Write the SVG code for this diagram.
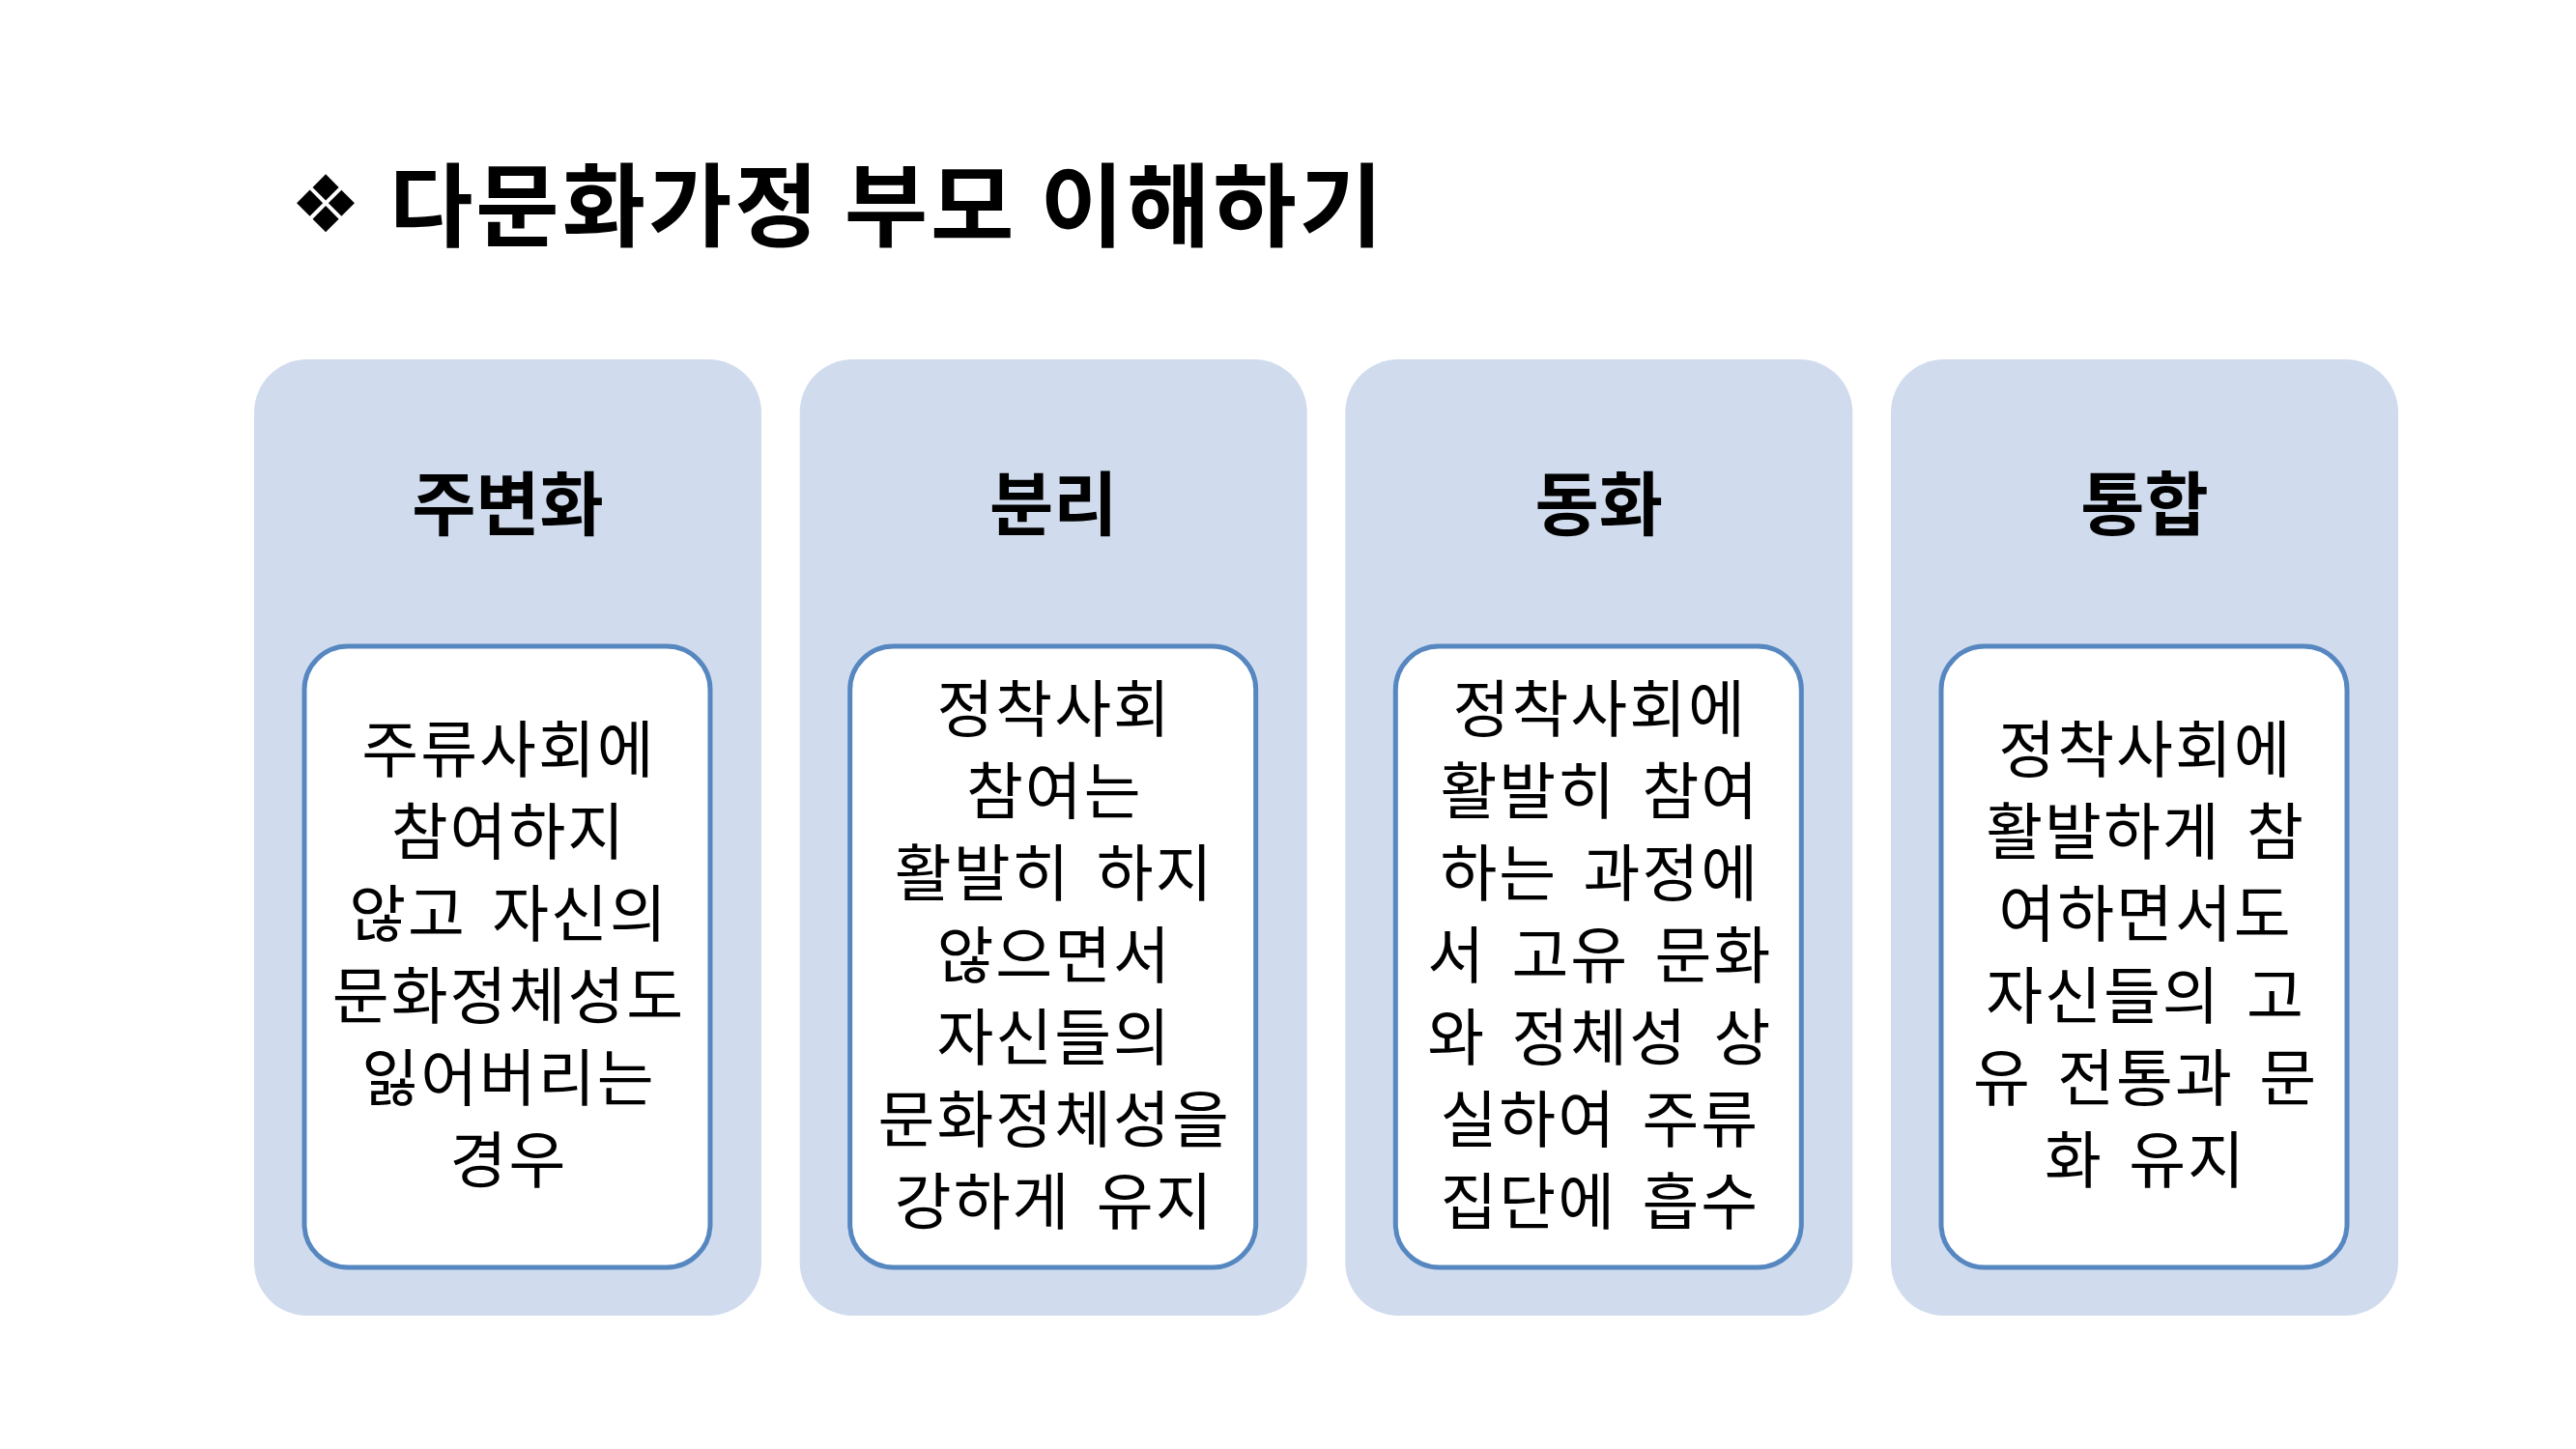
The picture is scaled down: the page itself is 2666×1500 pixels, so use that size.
<svg xmlns="http://www.w3.org/2000/svg" width="2666" height="1500" viewBox="0 0 2666 1500">
<style>
.panel{fill:#D0DCEE;}
.box{fill:#FFFFFF;stroke:#5687C0;stroke-width:5;}
.hd{font-family:"Noto Sans CJK KR","Noto Sans",sans-serif;font-weight:bold;font-size:72px;fill:#000;text-anchor:middle;}
.tx{font-family:"Noto Sans CJK KR","Noto Sans",sans-serif;font-size:64px;fill:#000;text-anchor:middle;letter-spacing:2px;word-spacing:10px;}
.ti{font-family:"Noto Sans CJK KR","Noto Sans",sans-serif;font-weight:bold;font-size:94px;fill:#000;}
</style>
<rect width="2666" height="1500" fill="#FFFFFF"/>
<g id="title">
<text x="337" y="240" font-family="DejaVu Sans,sans-serif" font-size="82" text-anchor="middle">❖</text>
<text class="ti" x="403" y="248" textLength="1028" lengthAdjust="spacing">다문화가정 부모 이해하기</text>
</g>
<g id="connectors"></g>
<g id="node-marginalization">
<rect class="panel" x="263" y="372" width="525" height="990" rx="55"/>
<text class="hd" x="525.5" y="548">주변화</text>
<rect class="box" x="315" y="669" width="420" height="643" rx="45"/>
<text class="tx" x="526.5" y="799">주류사회에</text>
<text class="tx" x="526.5" y="884">참여하지</text>
<text class="tx" x="526.5" y="969">않고 자신의</text>
<text class="tx" x="526.5" y="1054">문화정체성도</text>
<text class="tx" x="526.5" y="1139">잃어버리는</text>
<text class="tx" x="526.5" y="1224">경우</text>
</g>
<g id="node-separation">
<rect class="panel" x="827.7" y="372" width="525" height="990" rx="55"/>
<text class="hd" x="1090.2" y="548">분리</text>
<rect class="box" x="879.7" y="669" width="420" height="643" rx="45"/>
<text class="tx" x="1091.2" y="756.5">정착사회</text>
<text class="tx" x="1091.2" y="841.5">참여는</text>
<text class="tx" x="1091.2" y="926.5">활발히 하지</text>
<text class="tx" x="1091.2" y="1011.5">않으면서</text>
<text class="tx" x="1091.2" y="1096.5">자신들의</text>
<text class="tx" x="1091.2" y="1181.5">문화정체성을</text>
<text class="tx" x="1091.2" y="1266.5">강하게 유지</text>
</g>
<g id="node-assimilation">
<rect class="panel" x="1392.3" y="372" width="525" height="990" rx="55"/>
<text class="hd" x="1654.8" y="548">동화</text>
<rect class="box" x="1444.3" y="669" width="420" height="643" rx="45"/>
<text class="tx" x="1655.8" y="756.5">정착사회에</text>
<text class="tx" x="1655.8" y="841.5">활발히 참여</text>
<text class="tx" x="1655.8" y="926.5">하는 과정에</text>
<text class="tx" x="1655.8" y="1011.5">서 고유 문화</text>
<text class="tx" x="1655.8" y="1096.5">와 정체성 상</text>
<text class="tx" x="1655.8" y="1181.5">실하여 주류</text>
<text class="tx" x="1655.8" y="1266.5">집단에 흡수</text>
</g>
<g id="node-integration">
<rect class="panel" x="1957" y="372" width="525" height="990" rx="55"/>
<text class="hd" x="2219.5" y="548">통합</text>
<rect class="box" x="2009" y="669" width="420" height="643" rx="45"/>
<text class="tx" x="2220.5" y="799">정착사회에</text>
<text class="tx" x="2220.5" y="884">활발하게 참</text>
<text class="tx" x="2220.5" y="969">여하면서도</text>
<text class="tx" x="2220.5" y="1054">자신들의 고</text>
<text class="tx" x="2220.5" y="1139">유 전통과 문</text>
<text class="tx" x="2220.5" y="1224">화 유지</text>
</g>
</svg>
